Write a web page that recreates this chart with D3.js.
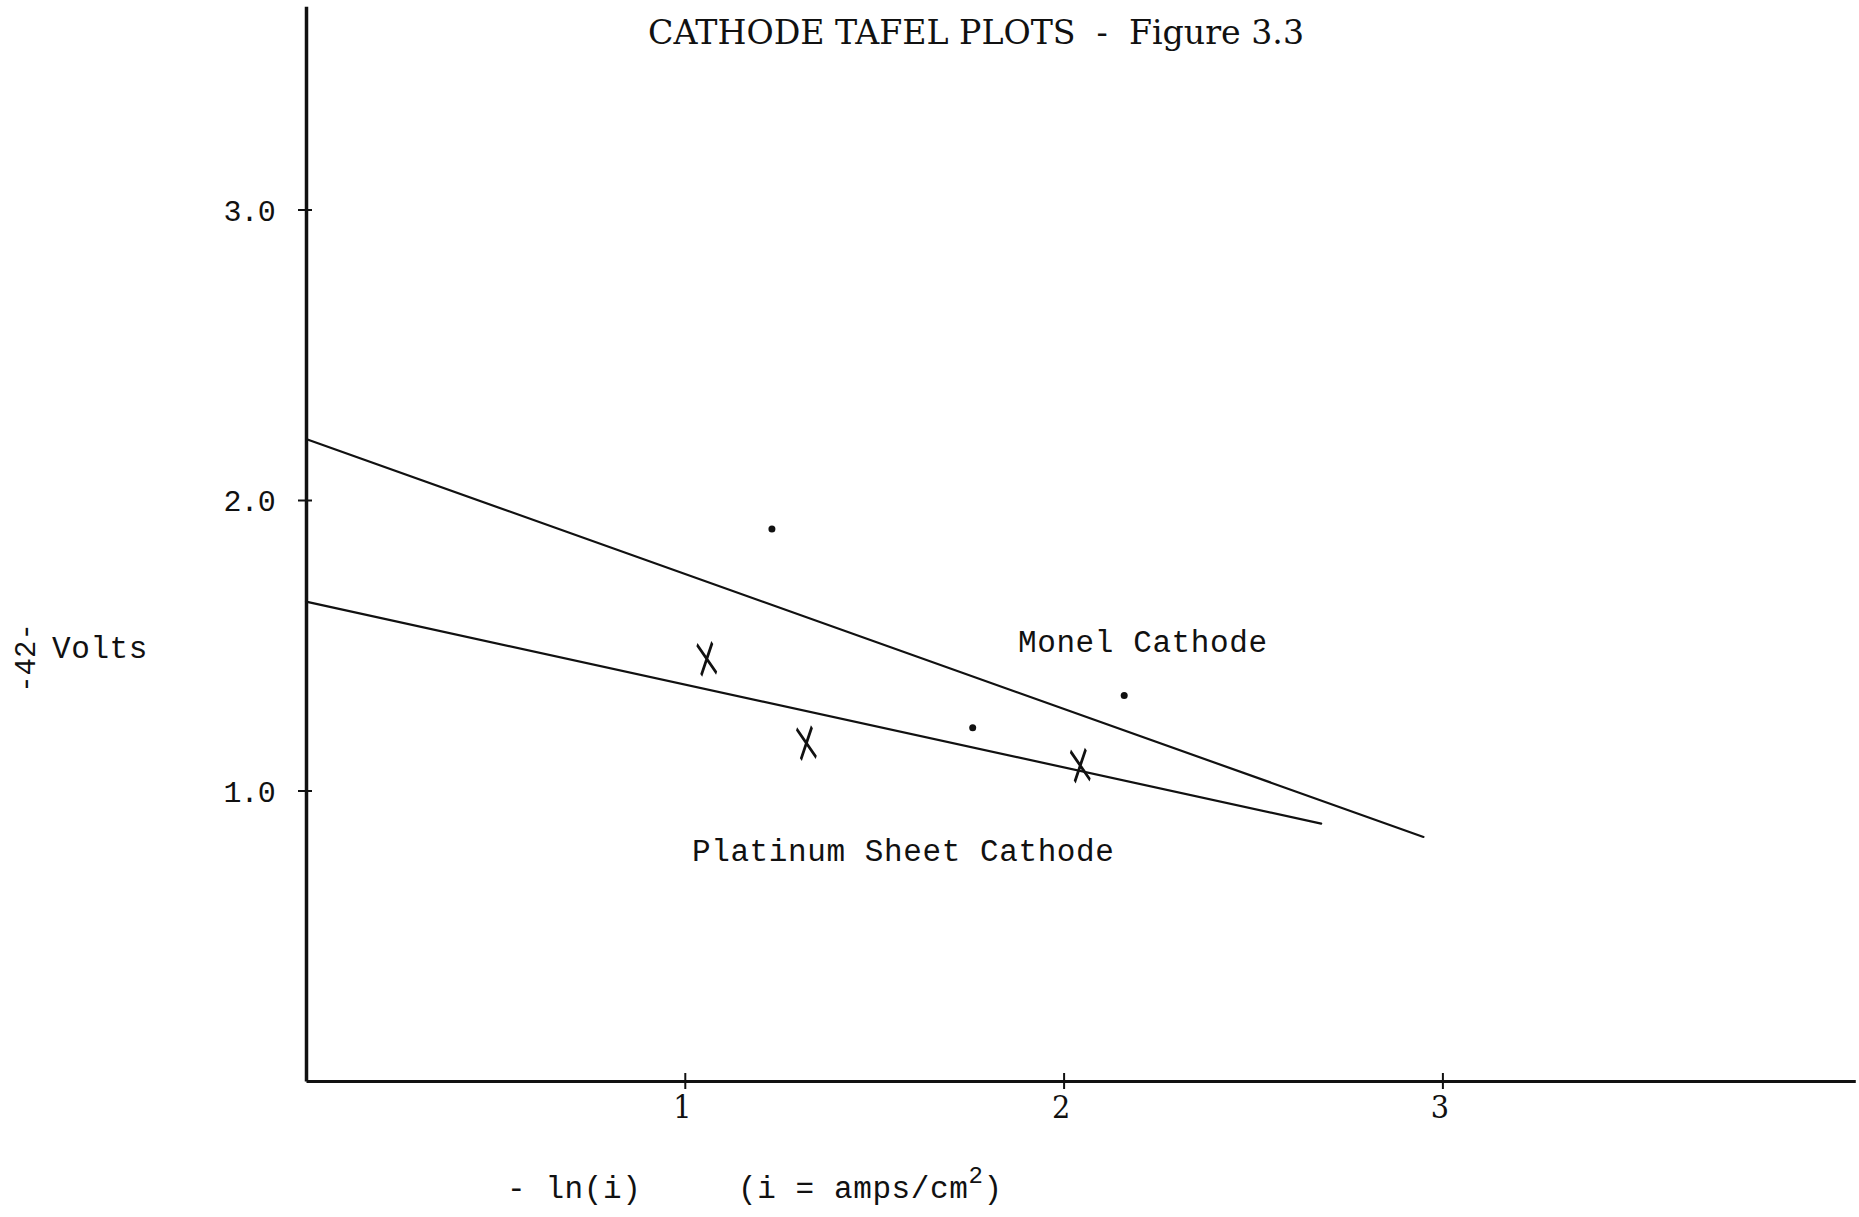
<!DOCTYPE html>
<html>
<head>
<meta charset="utf-8">
<script src="https://cdn.jsdelivr.net/npm/d3@7"></script>
<style>
  html, body { margin: 0; padding: 0; background: #fff; }
  svg { display: block; }
  text { white-space: pre; }
</style>
</head>
<body>
<script>
'use strict';

// tick values on both axes
const xTicks = [1, 2, 3];
const yTicks = [1.0, 2.0, 3.0];

// fitted Tafel lines, endpoints (x = -ln(i), y = volts)
const monelLine = [[0, 2.21], [2.95, 0.84]];
const platinumLine = [[0, 1.65], [2.68, 0.886]];

// measured points: dots for Monel, crosses for platinum sheet
const monelX = [1.23, 1.76, 2.16];
const monelY = [1.90, 1.216, 1.327];
const platinumX = [1.058, 1.321, 2.044];
const platinumY = [1.453, 1.163, 1.086];

const m = {
  width: 1859,
  height: 1217
};

const mono = "'Liberation Mono', 'DejaVu Sans Mono', monospace";
const serif = "'DejaVu Serif Condensed', 'Liberation Serif', serif";

const svg = d3.select('body')
  .append('svg')
  .attr('width', m.width)
  .attr('height', m.height);

svg.append('rect')
  .attr('width', m.width)
  .attr('height', m.height)
  .attr('fill', '#fff');

// scales: axes run from 0 up past the last tick
const xScale = d3.scaleLinear()
  .domain([0, 4.09])
  .range([306, 306 + 4.09 * 378.8]);

const yScale = d3.scaleLinear()
  .domain([0, 3.70])
  .range([1081, 1081 - 3.70 * 290.5]);

drawAxes();
drawLines();
drawPoints();
drawLabels();

function drawAxes() {
  // x-axis along volts = 0
  const xAxis = d3.axisBottom(xScale)
    .tickValues(xTicks)
    .tickFormat(d3.format('d'))
    .tickSize(0)
    .tickSizeOuter(0);

  const gx = svg.append('g')
    .attr('transform', 'translate(0, ' + yScale(0) + ')')
    .call(xAxis);

  gx.select('.domain')
    .attr('stroke', '#111')
    .attr('stroke-width', 3);

  gx.selectAll('.tick line')
    .attr('y1', -8)
    .attr('y2', 8)
    .attr('stroke', '#111')
    .attr('stroke-width', 2);

  gx.selectAll('.tick text')
    .attr('y', 37)
    .attr('dy', 0)
    .attr('x', -3)
    .style('font-family', serif)
    .style('font-size', '32px')
    .attr('fill', '#111');

  // y-axis at -ln(i) = 0
  const yAxis = d3.axisLeft(yScale)
    .tickValues(yTicks)
    .tickFormat(d3.format('.1f'))
    .tickSize(0)
    .tickSizeOuter(0);

  const gy = svg.append('g')
    .attr('transform', 'translate(' + xScale(0) + ', 0)')
    .call(yAxis);

  gy.select('.domain')
    .attr('stroke', '#111')
    .attr('stroke-width', 3.5);

  gy.selectAll('.tick line')
    .attr('x1', -8)
    .attr('x2', 6)
    .attr('stroke', '#111')
    .attr('stroke-width', 2);

  gy.selectAll('.tick text')
    .attr('x', -31)
    .attr('dy', '0.35em')
    .style('font-family', mono)
    .style('font-size', '30px')
    .style('letter-spacing', '-0.8px')
    .attr('fill', '#111');
}

function drawLines() {
  const line = d3.line()
    .x((d) => xScale(d[0]))
    .y((d) => yScale(d[1]));

  [monelLine, platinumLine].forEach((pts) => {
    svg.append('path')
      .datum(pts)
      .attr('d', line)
      .attr('fill', 'none')
      .attr('stroke', '#111')
      .attr('stroke-width', 2.2)
      .attr('stroke-linecap', 'round');
  });
}

function drawPoints() {
  // monel readings: small dots
  svg.selectAll('.monel')
    .data(monelX)
    .enter()
    .append('circle')
    .attr('class', 'monel')
    .attr('cx', (d) => xScale(d))
    .attr('cy', (d, i) => yScale(monelY[i]))
    .attr('r', 3.5)
    .attr('fill', '#111');

  // platinum readings: hand drawn style crosses
  const cross = d3.symbol().type(d3.symbolX).size(520);
  svg.selectAll('.plat')
    .data(platinumX)
    .enter()
    .append('path')
    .attr('class', 'plat')
    .attr('d', cross)
    .attr('transform', (d, i) => 'translate(' + xScale(d) + ',' + yScale(platinumY[i]) + ') rotate(-8) scale(0.55, 1.1)')
    .attr('fill', 'none')
    .attr('stroke', '#111')
    .attr('stroke-width', 4);
}

function drawLabels() {
  svg.append('text')
    .attr('x', 648)
    .attr('y', 44)
    .attr('textLength', 656)
    .attr('lengthAdjust', 'spacingAndGlyphs')
    .style('font-family', serif)
    .style('font-size', '33px')
    .attr('fill', '#111')
    .text('CATHODE TAFEL PLOTS  -  Figure 3.3');

  const monoText = (x, y, str) => svg.append('text')
    .attr('x', x)
    .attr('y', y)
    .style('font-family', mono)
    .style('font-size', '31px')
    .style('letter-spacing', '0.6px')
    .attr('fill', '#111')
    .text(str);

  monoText(1018, 652, 'Monel Cathode');
  monoText(692, 861, 'Platinum Sheet Cathode');
  monoText(52, 658, 'Volts');
  monoText(507, 1198, '- ln(i)');

  const xl = monoText(738, 1198, '(i = amps/cm');
  xl.append('tspan')
    .attr('dy', -15)
    .style('font-size', '24px')
    .text('2');
  xl.append('tspan')
    .attr('dy', 15)
    .text(')');

  // page number written sideways in the margin
  svg.append('text')
    .attr('transform', 'translate(35, 658) rotate(-90)')
    .attr('text-anchor', 'middle')
    .style('font-family', mono)
    .style('font-size', '29px')
    .attr('fill', '#111')
    .text('-42-');
}
</script>
</body>
</html>
